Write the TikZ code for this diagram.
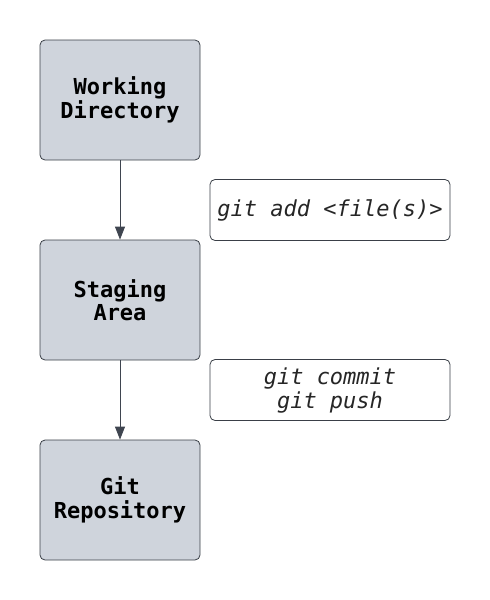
\documentclass[tikz,border=0pt]{standalone}
\usepackage{fontspec}
\setmonofont{DejaVu Sans Mono}
\usetikzlibrary{arrows.meta}
\definecolor{boxfill}{HTML}{CFD4DC}
\definecolor{boxline}{HTML}{3A3F47}
\definecolor{arrowc}{HTML}{3F4550}
\begin{document}
\begin{tikzpicture}[x=1pt,y=-1pt,
  stagebox/.style={draw=boxline, line width=0.8pt, fill=boxfill, rounded corners=5pt,
    minimum width=160pt, minimum height=120pt, inner sep=0pt, align=center,
    font=\fontsize{22}{23.5}\selectfont\ttfamily\bfseries},
  cmdbox/.style={draw=boxline, line width=0.8pt, fill=white, rounded corners=5pt,
    minimum width=240pt, minimum height=61pt, inner sep=0pt, align=center,
    font=\fontsize{22}{24}\selectfont\ttfamily\itshape, text=black!85},
  flow/.style={draw=arrowc, line width=0.9pt, -{Triangle[length=13pt,width=10pt]}}]
\useasboundingbox (0,0) rectangle (490,600);
\node[stagebox] (wd) at (120,100) {Working\\Directory};
\node[stagebox] (sa) at (120,300) {Staging\\Area};
\node[stagebox] (gr) at (120,500) {Git\\Repository};
\node[cmdbox] (add) at (330,210) {git add <file(s)>};
\node[cmdbox] (commit) at (330,390) {git commit\\git push};
\draw[flow] (wd) -- (sa);
\draw[flow] (sa) -- (gr);
\end{tikzpicture}
\end{document}
